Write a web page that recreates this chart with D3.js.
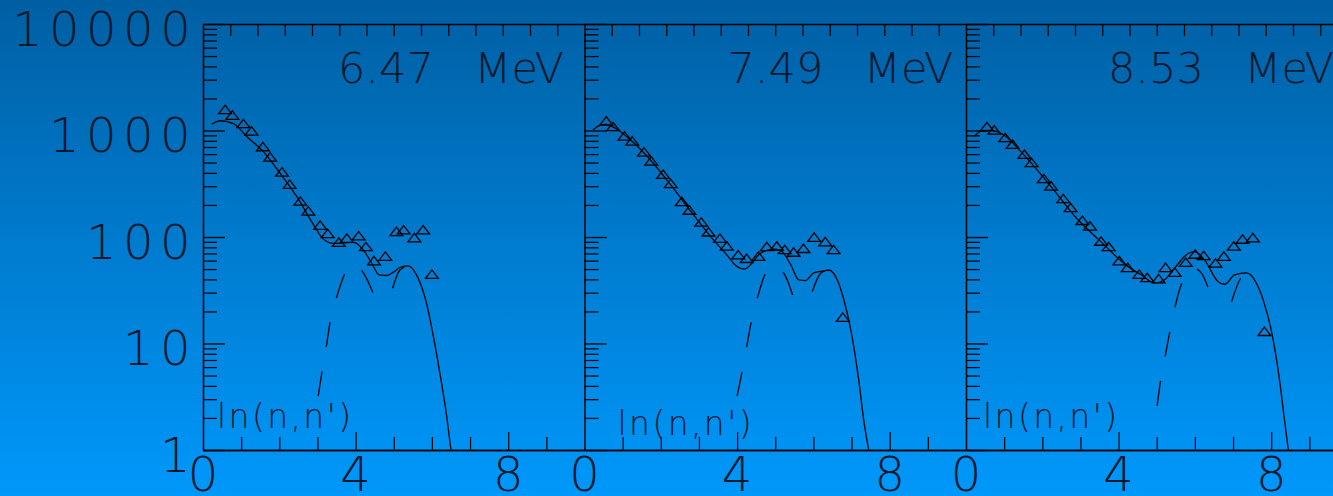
<!DOCTYPE html>
<html><head><meta charset="utf-8">
<script src="https://cdn.jsdelivr.net/npm/d3@7"></script>
<style>
html,body{margin:0;padding:0;overflow:hidden;background:#0080d0;}
svg{display:block;}
.lbl{font-family:"DejaVu Sans ExtraLight","DejaVu Sans",sans-serif;font-weight:200;fill:#02182c;}
</style></head><body><svg id="c" width="1333" height="496"></svg>
<script>
// ---------- data ----------
const energies = ["6.47", "7.49", "8.53"];
const yTickLabels = ["1", "10", "100", "1000", "10000"];
const xTickLabels = ["0", "4", "8"];
const channelLabel = "ln(n,n')";

// panel 1 : 6.47 MeV
const expE1 = [0.58,0.77,1.06,1.27,1.57,1.76,2.07,2.27,2.55,2.76,3.07,3.27,3.56,3.77,4.08,4.27,4.48,4.78,5.07,5.26,5.54,5.77,6.00];
const expV1 = [1550,1370,1143,975,695,556,402,308,214,173,127,106,88,96,101,80,59,65,111,115,97,115,44];
const fitE1 = [0.23,0.45,0.8,1.15,1.58,2.02,2.46,2.90,3.16,3.42,3.7,3.95,4.21,4.42,4.62,4.82,5.0,5.17,5.38,5.5,5.64,5.86,6.04,6.21,6.39,6.5];
const fitV1 = [1143,1235,1160,875,633,397,239,130,95,87,88,89,75,57,44,43.5,47,52,53.5,50,41,23.8,11.6,5.25,2.05,1];
const cmpAE1 = [3.02,3.1,3.24,3.34,3.52,3.77,3.98,4.12,4.27,4.53];
const cmpAV1 = [3.2,4.9,9.7,16.6,28.5,49,56,51,42,25.6];
const cmpBE1 = [4.97,5.16,5.38];
const cmpBV1 = [33,49,53.5];

// panel 2 : 7.49 MeV
const expE2 = [0.57,0.75,1.05,1.25,1.56,1.75,2.06,2.26,2.55,2.75,3.06,3.25,3.55,3.73,4.03,4.25,4.56,4.78,5.04,5.25,5.48,5.74,6.02,6.31,6.53,6.77];
const expV2 = [1210,1072,875,785,619,510,382,313,212,176,136,110,96,81,67,62,65,80,81,75,71,77,98,89,75,17.4];
const fitE2 = [0.22,0.42,0.55,0.81,1.21,1.73,2.26,2.86,3.38,3.73,3.99,4.19,4.43,4.60,4.95,5.14,5.41,5.62,5.79,6.01,6.27,6.40,6.66,6.8,6.98,7.19,7.32,7.45];
const fitV2 = [1010,1125,1140,1050,815,528,308,161,94,68,53,50,59,70,77,75,54.6,39.5,39,46,48,49,37,25.6,13.4,4.5,1.9,1];
const cmpAE2 = [4.0,4.12,4.25,4.38,4.54,4.77,5.02,5.28,5.51];
const cmpAV2 = [3.2,5.2,9.3,16.6,27.5,47,54,42,24.7];
const cmpBE2 = [5.97,6.19,6.39];
const cmpBV2 = [30.6,45.6,49];

// panel 3 : 8.53 MeV
const expE3 = [0.55,0.74,1.03,1.22,1.53,1.72,2.04,2.23,2.55,2.74,3.05,3.25,3.54,3.74,4.02,4.24,4.54,4.75,5.05,5.23,5.47,5.76,6.01,6.23,6.54,6.76,7.02,7.25,7.52,7.82];
const expV3 = [1072,996,845,731,589,492,348,297,226,186,141,125,90,80,59,51,44,41,40,51,46,57,68,66,56,65,81,94,97,12.8];
const fitE3 = [0.22,0.44,0.66,0.92,1.5,2.23,2.9,3.54,4.24,4.6,4.94,5.2,5.47,5.82,5.99,6.25,6.61,6.78,7.04,7.35,7.61,7.8,8.0,8.22,8.35,8.45];
const fitV3 = [888,996,1000,942,600,297,150,90,53,44,37,39.5,51,70,73,61,38,36,44,46,37,25,13.4,4.5,1.9,1];
const cmpAE3 = [5.01,5.09,5.22,5.35,5.49,5.67,5.92,6.17,6.34];
const cmpAV3 = [2.6,4.2,7.5,13.4,23,38,52,46,34];
const cmpBE3 = [6.96,7.22,7.4];
const cmpBV3 = [24.7,42,46];

(function () {
const zip = (a, b) => a.map((v, i) => [v, b[i]]);
const panels = [
  {title: energies[0], exp: zip(expE1, expV1), fit: zip(fitE1, fitV1), cA: zip(cmpAE1, cmpAV1), cB: zip(cmpBE1, cmpBV1), tdx: 135, ldx: 14, ldy: 0},
  {title: energies[1], exp: zip(expE2, expV2), fit: zip(fitE2, fitV2), cA: zip(cmpAE2, cmpAV2), cB: zip(cmpBE2, cmpBV2), tdx: 143, ldx: 33, ldy: 7},
  {title: energies[2], exp: zip(expE3, expV3), fit: zip(fitE3, fitV3), cA: zip(cmpAE3, cmpAV3), cB: zip(cmpBE3, cmpBV3), tdx: 142, ldx: 17, ldy: 0}
];

// ---------- layout ----------
const W = 1333, H = 496;
const left0 = 203, pw = 381.5, yTop = 24, yBot = 450;
const svg = d3.select("#c");

const defs = svg.append("defs");
const grad = defs.append("linearGradient").attr("id", "bg").attr("x1", 0).attr("y1", 0).attr("x2", 0).attr("y2", 1);
grad.append("stop").attr("offset", "0%").attr("stop-color", "#005fa3");
grad.append("stop").attr("offset", "100%").attr("stop-color", "#0098fb");
svg.append("rect").attr("width", W).attr("height", H).attr("fill", "url(#bg)");

const y = d3.scaleLog().domain([1, 10000]).range([yBot, yTop]);
const minorY = [];
[1, 10, 100, 1000].forEach(d => { for (let k = 2; k <= 9; k++) minorY.push(d * k); });

const tri = {draw(ctx) { ctx.moveTo(0, -5); ctx.lineTo(6.4, 3.4); ctx.lineTo(-6.4, 3.4); ctx.closePath(); }};
const sym = d3.symbol().type(tri);

function styleAxis(g, sw) {
  g.attr("color", "#000");
  g.selectAll("line").attr("stroke-width", sw);
  g.selectAll("path.domain").attr("stroke-width", 1.5);
}

panels.forEach((p, i) => {
  const L = left0 + i * pw;
  const x = d3.scaleLinear().domain([0, 10]).range([L, L + pw]);
  const xt = d3.scaleLinear().domain([0, 14]).range([L, L + pw]);
  const g = svg.append("g");

  g.append("g").attr("transform", `translate(0,${yTop})`)
    .call(d3.axisBottom(xt).tickValues(d3.range(1, 14)).tickSize(12).tickSizeOuter(0).tickFormat(""))
    .call(a => styleAxis(a, 1.2));
  g.append("g").attr("transform", `translate(0,${yBot})`)
    .call(d3.axisTop(x).tickValues([1,2,3,5,6,7,9]).tickSize(13).tickSizeOuter(0).tickFormat(""))
    .call(a => styleAxis(a, 1.2));
  g.append("g").attr("transform", `translate(0,${yBot})`)
    .call(d3.axisTop(x).tickValues([4,8]).tickSize(18).tickSizeOuter(0).tickFormat(""))
    .call(a => styleAxis(a, 1.2));
  g.append("g").attr("transform", `translate(${L},0)`)
    .call(d3.axisRight(y).tickValues([1,10,100,1000,10000]).tickSize(22).tickSizeOuter(0).tickFormat(""))
    .call(a => styleAxis(a, 1.3));
  g.append("g").attr("transform", `translate(${L},0)`)
    .call(d3.axisRight(y).tickValues(minorY).tickSize(14).tickSizeOuter(0).tickFormat(""))
    .call(a => { styleAxis(a, 1.2); a.select("path.domain").remove(); });

  g.selectAll("text.xl").data(xTickLabels).join("text").attr("class", "lbl xl")
    .attr("x", d => x(+d)).attr("y", 491).attr("text-anchor", "middle")
    .style("font-size", "48px").text(d => d);

  g.append("text").attr("class", "lbl").attr("x", L + p.tdx).attr("y", 83)
    .style("font-size", "43px").text(p.title);
  g.append("text").attr("class", "lbl").attr("x", L + p.tdx + 226).attr("y", 83)
    .attr("text-anchor", "end").style("font-size", "43px").text("MeV");

  g.append("text").attr("class", "lbl").attr("x", L + p.ldx).attr("y", 428 + p.ldy)
    .style("font-size", "33px").style("letter-spacing", "2.4px").text(channelLabel);

  const line = d3.line().x(d => x(d[0])).y(d => y(d[1])).curve(d3.curveMonotoneX);
  g.append("path").attr("d", line(p.fit)).attr("fill", "none").attr("stroke", "#000").attr("stroke-width", 1.3);
  g.append("path").attr("d", line(p.cA)).attr("fill", "none").attr("stroke", "#000").attr("stroke-width", 1.3).attr("stroke-dasharray", "25,25");
  g.append("path").attr("d", line(p.cB)).attr("fill", "none").attr("stroke", "#000").attr("stroke-width", 1.3).attr("stroke-dasharray", "25,25");

  g.selectAll("path.pt").data(p.exp).join("path").attr("class", "pt")
    .attr("transform", d => `translate(${x(d[0])},${y(d[1])})`)
    .attr("d", sym()).attr("fill", "none").attr("stroke", "#000").attr("stroke-width", 1.3);
});

svg.selectAll("text.yl").data(yTickLabels).join("text").attr("class", "lbl yl")
  .attr("x", d => 197 - d.length * 37).attr("y", d => y(+d) + 21.5)
  .style("font-size", "48px").style("letter-spacing", "6.5px").text(d => d);
})();
</script></body></html>
